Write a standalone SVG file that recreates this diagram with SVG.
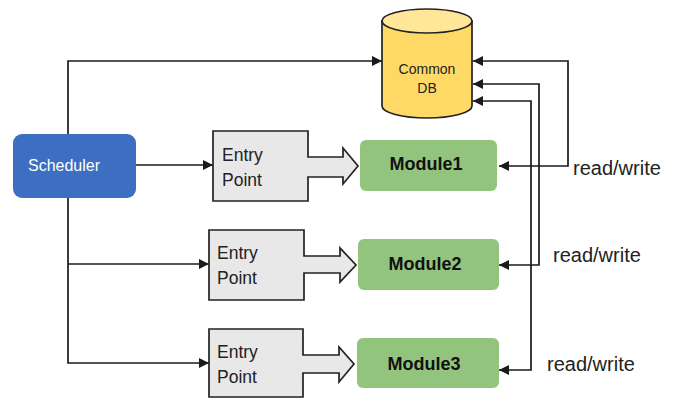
<svg xmlns="http://www.w3.org/2000/svg" width="675" height="398" viewBox="0 0 675 398">
<style>
.ln{fill:none;stroke:#1a1a1a;stroke-width:1.7}
.ep{fill:#e8e8e8;stroke:#222;stroke-width:1.7}
.mod{fill:#93c47d}
.t{font-family:"Liberation Sans",Arial,sans-serif;fill:#222}
.ept{font-size:17.5px}
.mt{font-size:18px;font-weight:bold;fill:#111;text-anchor:middle}
.rw{font-size:20px}
</style>
<defs>
<marker id="ah" viewBox="0 0 10 10" refX="10" refY="5" markerWidth="10" markerHeight="10" markerUnits="userSpaceOnUse" orient="auto-start-reverse">
<path d="M0,0 L10,5 L0,10 z" fill="#1a1a1a"/>
</marker>
</defs>
<rect width="675" height="398" fill="#fff"/>
<g id="connectors">
<path class="ln" d="M68,134 V61 H382" marker-end="url(#ah)"/>
<path class="ln" d="M136,165 H213" marker-end="url(#ah)"/>
<path class="ln" d="M68,198 V363 H209" marker-end="url(#ah)"/>
<path class="ln" d="M68,264 H209" marker-end="url(#ah)"/>
<path class="ln" d="M473,61 H568 V166 H499" marker-start="url(#ah)" marker-end="url(#ah)"/>
<path class="ln" d="M473,84 H539 V265 H499" marker-start="url(#ah)" marker-end="url(#ah)"/>
<path class="ln" d="M473,101 H531 V370 H499" marker-start="url(#ah)" marker-end="url(#ah)"/>
</g>
<g id="db">
<path d="M382,21 V106 A45,12 0 0 0 472,106 V21 Z" fill="#ffd966" stroke="#222" stroke-width="1.7"/>
<ellipse cx="427" cy="21" rx="45" ry="12" fill="#ffe699" stroke="#222" stroke-width="1.7"/>
<text class="t" x="427" y="74" font-size="14" text-anchor="middle" fill="#333">Common</text>
<text class="t" x="427" y="93" font-size="14" text-anchor="middle" fill="#333">DB</text>
</g>
<g id="scheduler">
<rect x="13" y="134" width="123" height="64" rx="9" fill="#3c6fc1"/>
<text class="t" x="28" y="171" font-size="16" style="fill:#fff">Scheduler</text>
</g>
<g id="entry1">
<path class="ep" d="M213,131 H308 V157 H343 V148 L358,166 L343,184 V177 H308 V201 H213 Z"/>
<text class="t ept" x="222" y="161">Entry</text>
<text class="t ept" x="222" y="186">Point</text>
</g>
<g id="entry2">
<path class="ep" d="M209,230 H304 V256 H340 V248 L356,265 L340,282 V273 H304 V300 H209 Z"/>
<text class="t ept" x="217" y="259">Entry</text>
<text class="t ept" x="217" y="284">Point</text>
</g>
<g id="entry3">
<path class="ep" d="M209,329 H303 V355 H339 V347 L354,364 L339,382 V373 H303 V397 H209 Z"/>
<text class="t ept" x="217" y="358">Entry</text>
<text class="t ept" x="217" y="383">Point</text>
</g>
<g id="module1">
<rect class="mod" x="360" y="140" width="137" height="51" rx="6"/>
<text class="t mt" x="426" y="170">Module1</text>
</g>
<g id="module2">
<rect class="mod" x="358" y="239" width="141" height="51" rx="6"/>
<text class="t mt" x="425" y="270">Module2</text>
</g>
<g id="module3">
<rect class="mod" x="357" y="338" width="142" height="50" rx="6"/>
<text class="t mt" x="424" y="370">Module3</text>
</g>
<g id="labels">
<text class="t rw" x="573" y="175">read/write</text>
<text class="t rw" x="553" y="262">read/write</text>
<text class="t rw" x="547" y="371">read/write</text>
</g>
</svg>
